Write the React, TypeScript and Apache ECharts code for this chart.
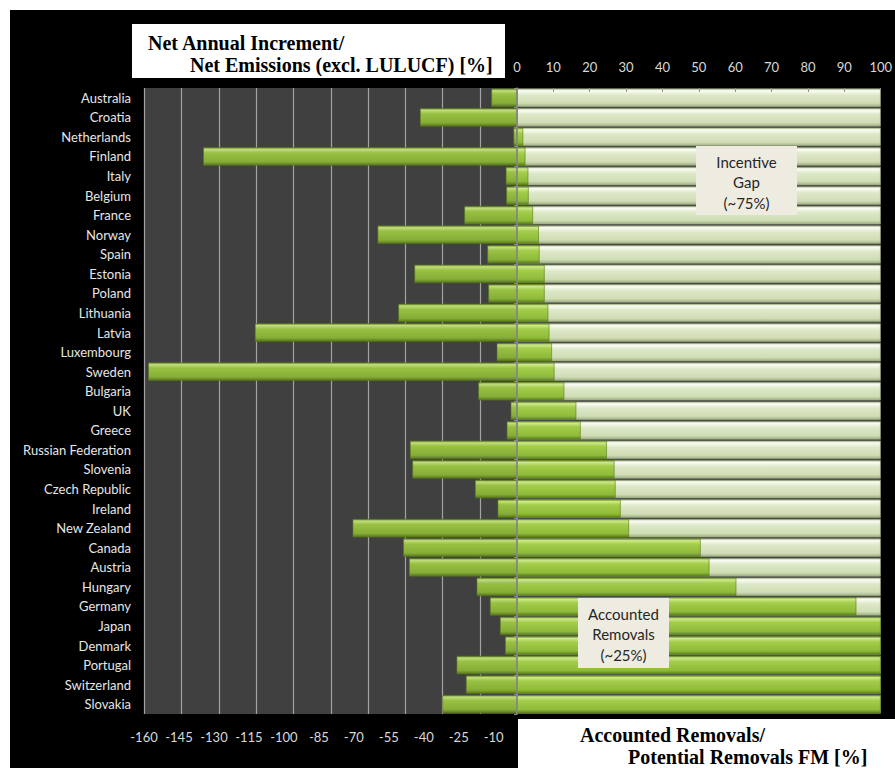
import React, { useEffect, useRef } from "react";
import * as echarts from "echarts";

const countries = [
  "Australia", "Croatia", "Netherlands", "Finland", "Italy", "Belgium", "France", "Norway",
  "Spain", "Estonia", "Poland", "Lithuania", "Latvia", "Luxembourg", "Sweden", "Bulgaria",
  "UK", "Greece", "Russian Federation", "Slovenia", "Czech Republic", "Ireland", "New Zealand",
  "Canada", "Austria", "Hungary", "Germany", "Japan", "Denmark", "Portugal", "Switzerland", "Slovakia",
];

// Net Annual Increment / Net Emissions (excl. LULUCF) [%] (plotted to the left)
const netIncrementShare = [
  -11, -41.6, -1.5, -134.6, -4.8, -4.6, -22.6, -59.8,
  -12.7, -44, -12.3, -50.9, -112.4, -8.7, -158.2, -16.6,
  -2.7, -4.4, -45.9, -44.9, -18, -8.3, -70.5,
  -48.8, -46.3, -17.3, -11.6, -7.3, -5.1, -25.9, -21.9, -32,
];

// Accounted Removals / Potential Removals FM [%]
const accountedRemovals = [
  0, 0, 1.7, 2.3, 3.1, 3.2, 4.4, 6.0,
  6.2, 7.6, 7.6, 8.6, 8.9, 9.6, 10.3, 13.0,
  16.3, 17.5, 24.7, 26.8, 27.1, 28.5, 30.8,
  50.5, 52.9, 60.3, 93.3, 100, 100, 100, 100, 100,
];

// Potential removals (full scale)
const potentialRemovals = [
  100, 100, 100, 100, 100, 100, 100, 100,
  100, 100, 100, 100, 100, 100, 100, 100,
  100, 100, 100, 100, 100, 100, 100,
  100, 100, 100, 100, 100, 100, 100, 100, 100,
];

// vertical gridlines of the left panel (value positions)
const leftGridLines = [-160, -144, -128, -112, -96, -80, -64, -48, -32, -16];

const leftAxisMin = -160;
const leftAxisMax = 0;
const leftLabelStep = 15;
const rightAxisMax = 100;
const rightLabelStep = 10;

const FONT = "Lato, 'Noto Sans', sans-serif";
const SERIF = "'Liberation Serif', 'DejaVu Serif', serif";

const greenGrad = new echarts.graphic.LinearGradient(0, 0, 0, 1, [
  { offset: 0, color: "#7a9f30" },
  { offset: 0.1, color: "#cfe88f" },
  { offset: 0.3, color: "#a3cd4a" },
  { offset: 0.8, color: "#8fbb3a" },
  { offset: 1, color: "#5c7e1e" },
]);
const leftGreenGrad = new echarts.graphic.LinearGradient(0, 0, 0, 1, [
  { offset: 0, color: "#6f9228" },
  { offset: 0.1, color: "#c2dc80" },
  { offset: 0.3, color: "#98c143" },
  { offset: 0.8, color: "#86ad36" },
  { offset: 1, color: "#56761c" },
]);
const lightGrad = new echarts.graphic.LinearGradient(0, 0, 0, 1, [
  { offset: 0, color: "#b4c498" },
  { offset: 0.1, color: "#fbfdf5" },
  { offset: 0.35, color: "#dde8c8" },
  { offset: 0.8, color: "#d0ddb5" },
  { offset: 1, color: "#9fae85" },
]);

export default function App() {
  const ref = useRef<HTMLDivElement>(null);

  useEffect(() => {
    if (!ref.current) return;
    const chart = echarts.init(ref.current, undefined, { renderer: "svg" });

    const top = 78;
    const height = 626;
    const titleFont = `bold 20px ${SERIF}`;
    const noteFont = `15px ${FONT}`;

    chart.setOption({
      animation: false,
      backgroundColor: "#000000",
      grid: [
        { left: 134, top, width: 373, height, show: false, containLabel: false },
        { left: 507, top, width: 370, height, show: true, backgroundColor: "#3a3a3a", borderWidth: 0, containLabel: false },
      ],
      xAxis: [
        {
          gridIndex: 0,
          type: "value",
          position: "bottom",
          min: leftAxisMin,
          max: leftAxisMax,
          interval: leftLabelStep,
          axisLine: { show: false },
          axisTick: { show: false },
          splitLine: { show: false },
          axisLabel: { show: true, showMaxLabel: false, color: "#d9d9d9", fontFamily: FONT, fontSize: 13, margin: 16 },
        },
        {
          gridIndex: 1,
          type: "value",
          position: "top",
          min: 0,
          max: rightAxisMax,
          interval: rightLabelStep,
          z: 12,
          axisLine: { show: false },
          axisTick: { show: true, inside: true, length: 4, lineStyle: { color: "#8f8f8f" } },
          splitLine: { show: false },
          axisLabel: { show: true, color: "#d9d9d9", fontFamily: FONT, fontSize: 13, margin: 15 },
        },
      ],
      yAxis: [
        {
          gridIndex: 0,
          type: "category",
          data: countries,
          inverse: true,
          axisLine: { show: false },
          axisTick: { show: false },
          axisLabel: { color: "#e6e6e6", fontFamily: FONT, fontSize: 13, margin: 13 },
        },
        {
          gridIndex: 1,
          type: "category",
          data: countries,
          inverse: true,
          z: 12,
          axisLine: { show: true, lineStyle: { color: "#8c8c8c", width: 1.5 } },
          axisTick: { show: true, length: 3, lineStyle: { color: "#8c8c8c" } },
          axisLabel: { show: false },
        },
      ],
      series: [
        {
          name: "panel",
          type: "line",
          xAxisIndex: 0,
          yAxisIndex: 0,
          data: [],
          silent: true,
          markArea: {
            z: 1,
            silent: true,
            label: { show: false },
            emphasis: { disabled: true },
            itemStyle: { color: "#404040", borderWidth: 0 },
            data: [[{ xAxis: leftAxisMin }, { xAxis: leftAxisMax }]],
          },
        },
        {
          name: "gridlines",
          type: "custom",
          xAxisIndex: 0,
          yAxisIndex: 0,
          z: 5,
          silent: true,
          clip: false,
          encode: { x: 0, y: 1 },
          data: leftGridLines.map((v) => [v, 0]),
          renderItem: (params: any, api: any) => {
            const x = Math.round(api.coord([api.value(0), 0])[0]) + 0.5;
            const cs = params.coordSys;
            return {
              type: "line",
              shape: { x1: x, y1: cs.y, x2: x, y2: cs.y + cs.height },
              style: { stroke: "#a3a3a3", lineWidth: 1.2 },
            };
          },
        },
        {
          name: "Net Annual Increment / Net Emissions",
          type: "bar",
          xAxisIndex: 0,
          yAxisIndex: 0,
          data: netIncrementShare,
          barCategoryGap: "6%",
          z: 10,
          itemStyle: { color: leftGreenGrad, borderColor: "#55741c", borderWidth: 0.6 },
        },
        {
          name: "Potential Removals",
          type: "bar",
          xAxisIndex: 1,
          yAxisIndex: 1,
          data: potentialRemovals,
          barCategoryGap: "6%",
          barGap: "-100%",
          z: 10,
          itemStyle: { color: lightGrad, borderColor: "#9aa882", borderWidth: 0.6 },
        },
        {
          name: "Accounted Removals",
          type: "bar",
          xAxisIndex: 1,
          yAxisIndex: 1,
          data: accountedRemovals,
          barCategoryGap: "6%",
          barGap: "-100%",
          z: 11,
          itemStyle: { color: greenGrad, borderColor: "#5a7c1c", borderWidth: 0.6 },
        },
      ],
      graphic: [
        { type: "rect", z: 100, shape: { x: 122, y: 14, width: 373, height: 54 }, style: { fill: "#ffffff" } },
        {
          type: "text", z: 101, x: 138, y: 33,
          style: { text: "Net Annual Increment/", font: titleFont, fill: "#000", verticalAlign: "middle" },
        },
        {
          type: "text", z: 101, x: 180, y: 55,
          style: { text: "Net Emissions (excl. LULUCF) [%]", font: titleFont, fill: "#000", verticalAlign: "middle" },
        },
        { type: "rect", z: 100, shape: { x: 508, y: 709, width: 380, height: 60 }, style: { fill: "#ffffff" } },
        {
          type: "text", z: 101, x: 570, y: 725,
          style: { text: "Accounted Removals/", font: titleFont, fill: "#000", verticalAlign: "middle" },
        },
        {
          type: "text", z: 101, x: 618, y: 747,
          style: { text: "Potential Removals FM [%]", font: titleFont, fill: "#000", verticalAlign: "middle" },
        },
        { type: "rect", z: 100, shape: { x: 686, y: 136, width: 101, height: 69 }, style: { fill: "#eeece1" } },
        {
          type: "text", z: 101, x: 736.5, y: 152,
          style: { text: "Incentive", font: noteFont, fill: "#262626", align: "center", verticalAlign: "middle" },
        },
        {
          type: "text", z: 101, x: 736.5, y: 172,
          style: { text: "Gap", font: noteFont, fill: "#262626", align: "center", verticalAlign: "middle" },
        },
        {
          type: "text", z: 101, x: 736.5, y: 193,
          style: { text: "(~75%)", font: noteFont, fill: "#262626", align: "center", verticalAlign: "middle" },
        },
        { type: "rect", z: 100, shape: { x: 568, y: 588, width: 91, height: 70 }, style: { fill: "#eeece1" } },
        {
          type: "text", z: 101, x: 613.5, y: 604,
          style: { text: "Accounted", font: noteFont, fill: "#262626", align: "center", verticalAlign: "middle" },
        },
        {
          type: "text", z: 101, x: 613.5, y: 624,
          style: { text: "Removals", font: noteFont, fill: "#262626", align: "center", verticalAlign: "middle" },
        },
        {
          type: "text", z: 101, x: 613.5, y: 645,
          style: { text: "(~25%)", font: noteFont, fill: "#262626", align: "center", verticalAlign: "middle" },
        },
      ],
    });

    return () => chart.dispose();
  }, []);

  return (
    <div
      ref={ref}
      style={{ position: "absolute", left: 10, top: 10, width: 885, height: 758 }}
    />
  );
}
